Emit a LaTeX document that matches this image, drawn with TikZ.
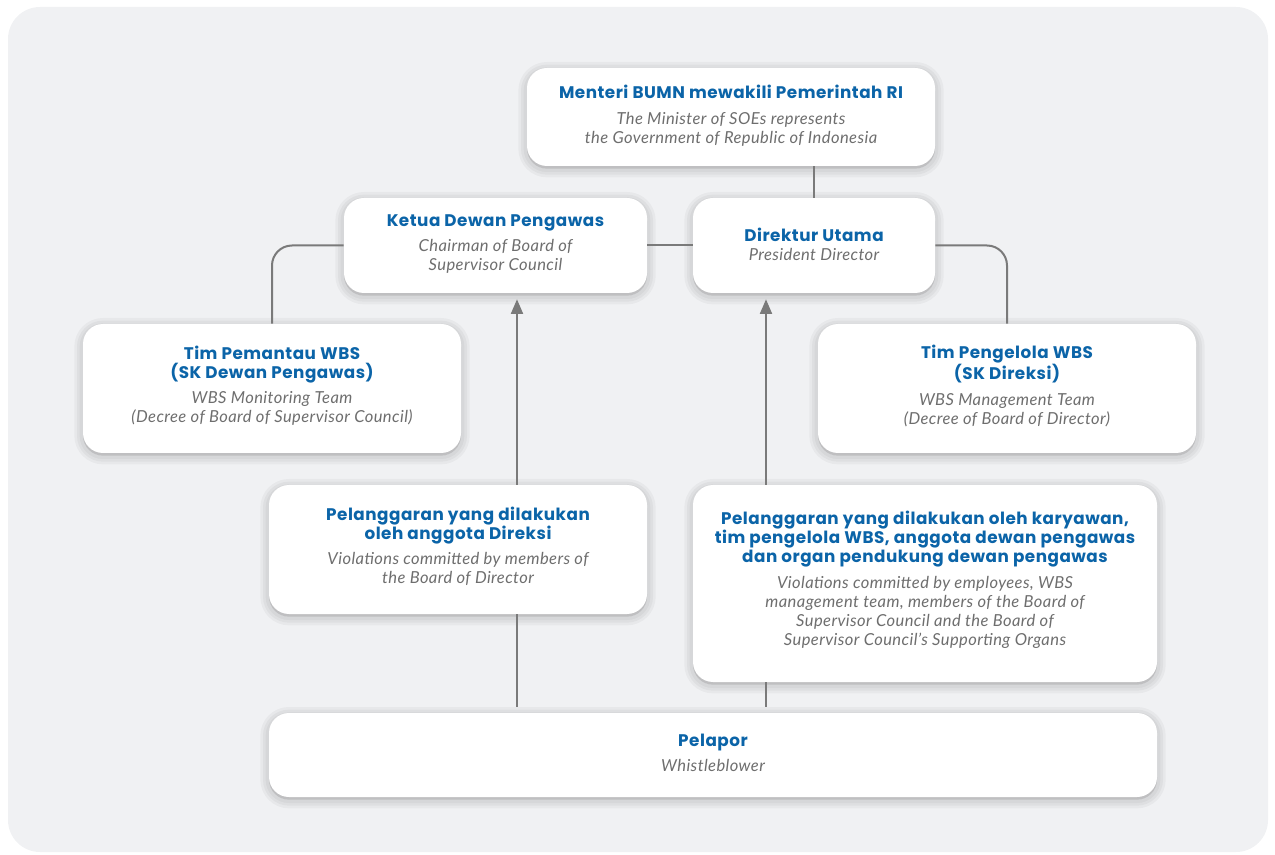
\documentclass[tikz,border=0pt]{standalone}
\usepackage{fontspec}
\setmainfont{Lato}
\newfontfamily\headfont[LetterSpace=3]{Poppins}
\newfontfamily\notefont[LetterSpace=2.5]{Lato}
\usetikzlibrary{arrows.meta}
\definecolor{panelgray}{HTML}{F0F1F3}
\definecolor{titleblue}{HTML}{0B64A8}
\definecolor{notegray}{HTML}{6E6E6E}
\definecolor{linegray}{HTML}{7A7A7A}
\newcommand\ttl[1]{{\headfont\upshape\bfseries\fontsize{12.6}{14.25}\selectfont\color{titleblue}#1}}
\tikzset{
  halo/.style={draw=black, fill=black, draw opacity=0.035, fill opacity=0.035,
    line width=#1, transform canvas={yshift=-2pt}},
  card/.style={draw=none, fill=white, rounded corners=15pt, inner sep=0pt,
    preaction={halo=13pt}, preaction={halo=9pt}, preaction={halo=5pt}},
  cardtext/.style={align=center, inner sep=0pt, text=notegray,
    font=\notefont\itshape\fontsize{12.4}{14.25}\selectfont},
  conn/.style={draw=linegray, line width=1.5pt},
  upflow/.style={conn, -{Triangle[length=11pt,width=9pt]}, shorten >=4.5pt}
}
\begin{document}
\begin{tikzpicture}[x=0.75pt,y=-0.75pt]
  \useasboundingbox (0,0) rectangle (1275,855);
  % panel
  \fill[panelgray, rounded corners=24pt] (8,7) rectangle (1268,852);

  % cards
  \node[card, minimum width=408*0.75pt, minimum height=98*0.75pt]  (menteri)  at (731,117) {};
  \node[card, minimum width=303*0.75pt, minimum height=95*0.75pt]  (ketua)    at (495.5,245.5) {};
  \node[card, minimum width=242*0.75pt, minimum height=95*0.75pt]  (dirut)    at (814,245.5) {};
  \node[card, minimum width=378*0.75pt, minimum height=129*0.75pt] (pemantau) at (272,388.5) {};
  \node[card, minimum width=378*0.75pt, minimum height=129*0.75pt] (pengelola) at (1007,388.5) {};
  \node[card, minimum width=378*0.75pt, minimum height=129*0.75pt] (viodir)   at (458,549.5) {};
  \node[card, minimum width=464*0.75pt, minimum height=197*0.75pt] (vioemp)   at (925,583.5) {};
  \node[card, minimum width=888*0.75pt, minimum height=84*0.75pt]  (pelapor)  at (713,755) {};

  % card texts
  \node[cardtext, yshift=1pt] (menteri-t) at (menteri.center)
    {\ttl{Menteri BUMN mewakili Pemerintah RI}\\[5pt]
     The Minister of SOEs represents\\
     the Government of Republic of Indonesia};
  \node[cardtext, yshift=1pt] (ketua-t) at (ketua.center)
    {\ttl{Ketua Dewan Pengawas}\\[5pt]
     Chairman of Board of\\
     Supervisor Council};
  \node[cardtext, yshift=1pt] (dirut-t) at (dirut.center)
    {\ttl{Direktur Utama}\\
     President Director};
  \node[cardtext, yshift=2pt] (pemantau-t) at (pemantau.center)
    {\ttl{Tim Pemantau WBS}\\
     \ttl{(SK Dewan Pengawas)}\\[5pt]
     WBS Monitoring Team\\
     (Decree of Board of Supervisor Council)};
  \node[cardtext, yshift=2pt] (pengelola-t) at (pengelola.center)
    {\ttl{Tim Pengelola WBS}\\
     \ttl{(SK Direksi)}\\[5pt]
     WBS Management Team\\
     (Decree of Board of Director)};
  \node[cardtext, yshift=2.5pt] (viodir-t) at (viodir.center)
    {\ttl{Pelanggaran yang dilakukan}\\
     \ttl{oleh anggota Direksi}\\[5pt]
     Violations committed by members of\\
     the Board of Director};
  \node[cardtext, yshift=3pt] (vioemp-t) at (vioemp.center)
    {\ttl{Pelanggaran yang dilakukan oleh karyawan,}\\
     \ttl{tim pengelola WBS, anggota dewan pengawas}\\
     \ttl{dan organ pendukung dewan pengawas}\\[5pt]
     Violations committed by employees, WBS\\
     management team, members of the Board of\\
     Supervisor Council and the Board of\\
     Supervisor Council’s Supporting Organs};
  \node[cardtext, yshift=1.5pt] (pelapor-t) at (pelapor.center)
    {\ttl{Pelapor}\\[5pt]
     Whistleblower};

  % reporting lines
  \draw[conn] (dirut.north) -- (dirut.north |- menteri.south);
  \draw[conn] (ketua.east) -- (dirut.west);
  \draw[conn, rounded corners=15pt] (ketua.west) -| (pemantau.north);
  \draw[conn, rounded corners=15pt] (dirut.east) -| (pengelola.north);

  % report flows from the whistleblower
  \coordinate (leftlane) at (517,0);
  \coordinate (rightlane) at (766,0);
  \draw[conn, shorten >=4.5pt] (viodir.south -| leftlane) -- (pelapor.north -| leftlane);
  \draw[upflow] (viodir.north -| leftlane) -- (ketua.south -| leftlane);
  \draw[conn, shorten >=4.5pt] (vioemp.south -| rightlane) -- (pelapor.north -| rightlane);
  \draw[upflow] (vioemp.north -| rightlane) -- (dirut.south -| rightlane);
\end{tikzpicture}
\end{document}
